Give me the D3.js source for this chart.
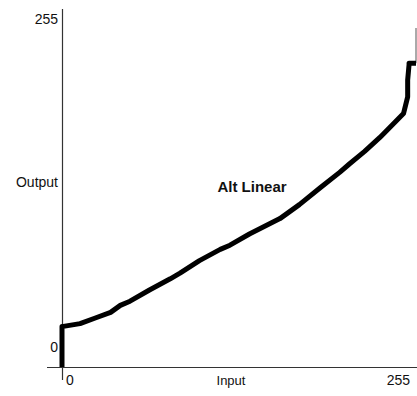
<!DOCTYPE html>
<meta charset="utf-8">
<style>
  body { margin: 0; background: #fff; }
  text { font-family: "Liberation Sans", Arial, sans-serif; fill: #111; }
</style>
<body>
<div id="chart"></div>
<script src="https://d3js.org/d3.v7.min.js"></script>
<script>

// curve (input -> output, both 0..255)
var inputVals  = [0, 0, 1, 13, 24, 35, 42, 49, 63, 78, 85, 99, 114, 121, 135, 157, 171, 186, 200, 207, 218, 229, 240, 246, 249, 249, 250, 250, 255];
var outputVals = [0, 29, 29, 31, 35, 39, 44, 47, 55, 63, 67, 76, 84, 87, 95, 106, 116, 128, 139, 145, 154, 164, 175, 181, 193, 205, 216, 217, 217];
var xTicks = [0, 255];
var yTicks = [0, 255];
var curveName = "Alt Linear";

var W = 417, H = 396;

var svg = d3.select("#chart")
  .append("svg")
    .attr("width", W)
    .attr("height", H);

var x = d3.scaleLinear()
  .domain([0, 255])
  .range([62, 416]);

var y = d3.scaleLinear()
  .domain([0, 255])
  .range([367, 10]);

// axes, drawn as plain lines that run a little past the origin
svg.append("line")
  .attr("x1", x(0) - 15).attr("x2", W)
  .attr("y1", y(0) + 0.5).attr("y2", y(0) + 0.5)
  .style("stroke", "#333").style("stroke-width", 1.2);

svg.append("line")
  .attr("x1", x(0) + 0.5).attr("x2", x(0) + 0.5)
  .attr("y1", y(255) - 1).attr("y2", y(0) + 13)
  .style("stroke", "#333").style("stroke-width", 1.2);

// thin edge line at the right
svg.append("line")
  .attr("x1", W - 1).attr("x2", W - 1)
  .attr("y1", 28).attr("y2", y(217))
  .style("stroke", "#555").style("stroke-width", 1);

// tick labels
svg.selectAll(".xlab")
  .data(xTicks)
  .enter()
  .append("text")
    .attr("x", function(d) { return d == 0 ? x(d) + 4 : x(d) - 6; })
    .attr("y", y(0) + 18)
    .attr("text-anchor", function(d) { return d == 0 ? "start" : "end"; })
    .style("font-size", "14px")
    .text(function(d) { return d; });

svg.selectAll(".ylab")
  .data(yTicks)
  .enter()
  .append("text")
    .attr("x", x(0) - 4)
    .attr("y", function(d) { return d == 0 ? y(d) - 15 : y(d) + 14; })
    .attr("text-anchor", "end")
    .style("font-size", "14px")
    .text(function(d) { return d; });

svg.append("text")
  .attr("x", 231)
  .attr("y", y(0) + 18)
  .attr("text-anchor", "middle")
  .style("font-size", "13px")
  .text("Input");

svg.append("text")
  .attr("x", x(0) - 4)
  .attr("y", 187)
  .attr("text-anchor", "end")
  .style("font-size", "14px")
  .text("Output");

var pts = inputVals.map(function(d, i) { return [d, outputVals[i]]; });

var line = d3.line()
  .x(function(d) { return x(d[0]); })
  .y(function(d) { return y(d[1]); });

svg.append("path")
  .datum(pts)
  .attr("d", line)
  .style("fill", "none")
  .style("stroke", "#000")
  .style("stroke-width", 5)
  .style("stroke-linejoin", "round");

svg.append("text")
  .attr("x", 252)
  .attr("y", 192)
  .attr("text-anchor", "middle")
  .style("font-size", "15px")
  .style("font-weight", "bold")
  .text(curveName);

</script>
</body>
